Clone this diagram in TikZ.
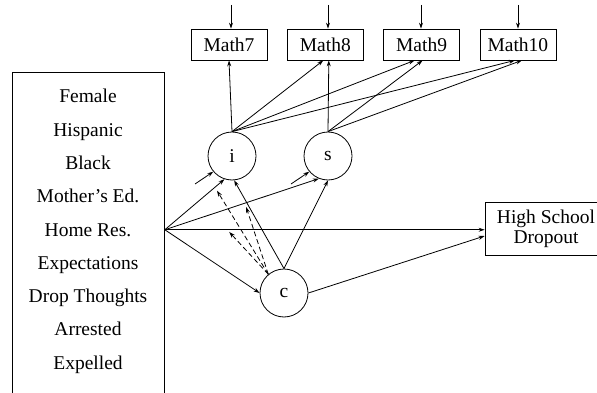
\documentclass[tikz,border=0pt]{standalone}
\usepackage{fontspec}
\setmainfont{Liberation Serif}
\usetikzlibrary{arrows.meta, positioning}

\begin{document}
\begin{tikzpicture}[x=1pt, y=-1pt, >={Stealth[length=6pt, width=4pt]}, line width=0.8pt,
  font=\fontsize{19.5}{20}\selectfont, node distance=19.5pt,
  obs/.style={draw, minimum width=76pt, minimum height=31pt, inner sep=2pt},
  lat/.style={draw, circle, minimum size=48pt, inner sep=0pt},
  mod/.style={->, dash pattern=on 5pt off 3pt}]
  \useasboundingbox (0,0) rectangle (597,393);
  \clip (0,0) rectangle (597,393);
  % repeated measures
  \node[obs] (m7) at (229,44.5) {Math7};
  \node[obs, right=of m7] (m8) {Math8};
  \node[obs, right=of m8] (m9) {Math9};
  \node[obs, right=of m9] (m10) {Math10};
  % covariates
  \node[draw, minimum width=152pt, minimum height=340pt, anchor=north west] (cov) at (12,72) {};
  \foreach \v [count=\k] in {Female, Hispanic, Black, Mother's Ed., Home Res., Expectations,
    Drop Thoughts, Arrested, Expelled}
    \node[anchor=base] (v\k) at (88, 69.75+33.25*\k) {\v};
  \coordinate (hub) at (cov.east |- v5.center);
  % growth factors, class, outcome
  \node[lat] (i) at (232,156) {i};
  \node[lat] (s) at (328,156) {s};
  \node[lat] (c) at (284,293) {c};
  \node[draw, align=center, minimum width=122pt, minimum height=53pt] (hsd) at (546,228.5)
    {High School\\Dropout};
  % residuals
  \foreach \m/\x in {m7/231, m8/328, m9/421, m10/518} {
    \coordinate (e\m) at (\x,5);
    \draw[->] (e\m) -- (e\m |- \m.north);
  }
  \coordinate (zi) at (195,184);
  \coordinate (zs) at (291,184);
  \draw[->] (zi) -- (i.-140);
  \draw[->] (zs) -- (s.-140);
  % loadings
  \draw[->] (i.north) -- (m7.south);
  \draw[->] (i.north) -- ([xshift=-2pt]m8.south);
  \draw[->] (i.north) -- ([xshift=-7pt]m9.south);
  \draw[->] (i.north) -- ([xshift=-3pt]m10.south);
  \draw[->] (s.north) -- ([xshift=3.5pt]m8.south);
  \draw[->] (s.north) -- ([xshift=1pt]m9.south);
  \draw[->] (s.north) -- ([xshift=4pt]m10.south);
  % covariate effects
  \draw[->] (hub) -- node[coordinate, pos=0.84] (pi) {} (i.-108);
  \draw[->] (hub) -- node[coordinate, pos=0.52] (ps) {} (s.-112);
  \draw[->] (hub) -- node[coordinate, pos=0.195] (pd) {} (hub -| hsd.west);
  \draw[->] (hub) -- (c.west);
  \draw[->] (c.north) -- (i.-85);
  \draw[->] (c.north) -- (s.south);
  \draw[->] (c.east) -- ([yshift=-7.5pt]hsd.west);
  % class moderates the covariate effects
  \draw[mod, shorten >=4pt] (c.130) -- (pi);
  \draw[mod, shorten >=4pt] (c.130) -- (ps);
  \draw[mod, shorten >=3pt] (c.130) -- (pd);
\end{tikzpicture}
\end{document}
